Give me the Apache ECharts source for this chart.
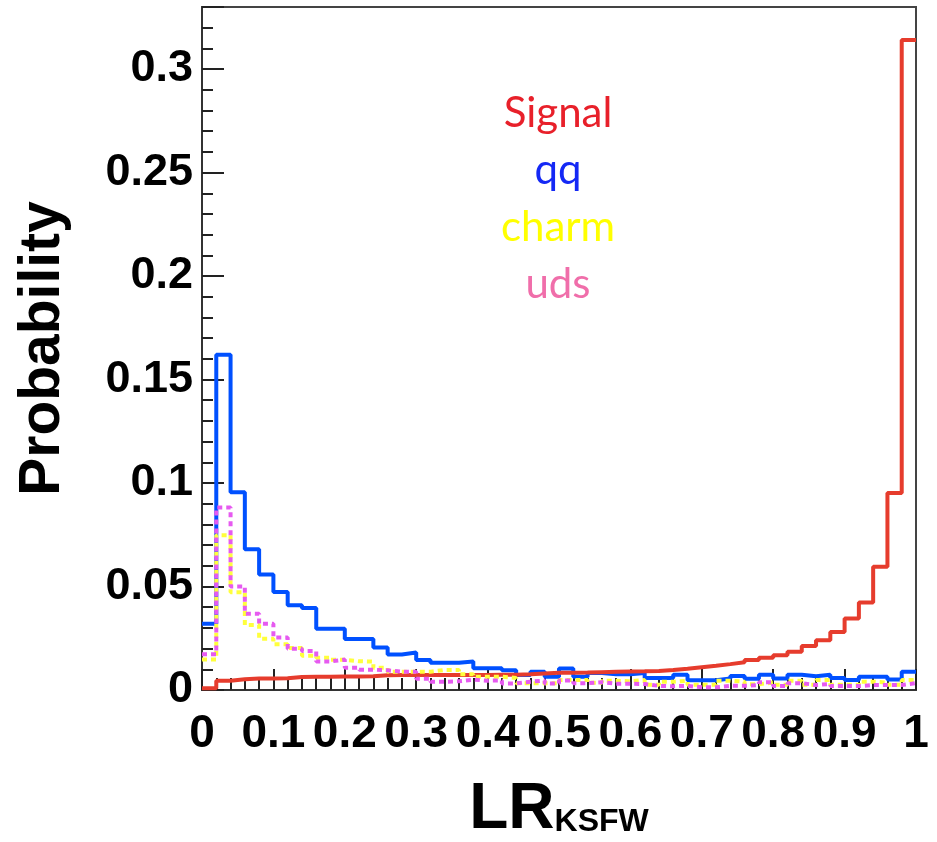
<!DOCTYPE html>
<html>
<head>
<meta charset="utf-8">
<script src="https://cdn.jsdelivr.net/npm/echarts@6/dist/echarts.min.js"></script>
<style>html,body{margin:0;padding:0;background:#fff;}#c{width:937px;height:842px;}</style>
</head>
<body>
<div id="c"></div>
<script>
// 50 bins of width 0.02 from 0 to 1
const binWidth = 0.02;
const signal = [0.0008,0.0045,0.0052,0.0055,0.0055,0.0057,0.0063,0.0064,0.0064,0.0065,
  0.0065,0.0066,0.0071,0.0072,0.0072,0.0072,0.0073,0.0073,0.0073,0.0073,
  0.0074,0.0074,0.0076,0.0080,0.0083,0.0083,0.0084,0.0086,0.0088,0.0089,
  0.0090,0.0092,0.0097,0.0103,0.0110,0.0117,0.0125,0.0134,0.0145,0.0156,
  0.0168,0.0185,0.0212,0.0240,0.0280,0.0345,0.0423,0.0596,0.0952,0.3140];
const qq = [0.0320,0.1620,0.0956,0.0680,0.0558,0.0474,0.0410,0.0396,0.0296,0.0296,
  0.0246,0.0246,0.0205,0.0172,0.0181,0.0145,0.0132,0.0132,0.0138,0.0105,
  0.0105,0.0095,0.0072,0.0088,0.0064,0.0104,0.0064,0.0082,0.0076,0.0076,
  0.0082,0.0058,0.0058,0.0074,0.0047,0.0047,0.0056,0.0068,0.0054,0.0074,
  0.0056,0.0074,0.0066,0.0074,0.0058,0.0048,0.0064,0.0064,0.0051,0.0088];
const charm = [0.0147,0.0748,0.0472,0.0314,0.0248,0.0221,0.0203,0.0166,0.0156,0.0146,
  0.0139,0.0137,0.0107,0.0088,0.0088,0.0088,0.0097,0.0097,0.0076,0.0064,
  0.0064,0.0058,0.0033,0.0033,0.0033,0.0048,0.0048,0.0035,0.0045,0.0042,
  0.0048,0.0025,0.0040,0.0045,0.0025,0.0025,0.0045,0.0040,0.0028,0.0036,
  0.0025,0.0045,0.0025,0.0048,0.0025,0.0025,0.0040,0.0036,0.0025,0.0048];
const uds = [0.0173,0.0882,0.0500,0.0368,0.0320,0.0254,0.0199,0.0188,0.0138,0.0147,
  0.0108,0.0098,0.0095,0.0088,0.0088,0.0054,0.0040,0.0042,0.0050,0.0045,
  0.0046,0.0032,0.0040,0.0046,0.0032,0.0046,0.0033,0.0038,0.0030,0.0030,
  0.0029,0.0020,0.0018,0.0020,0.0013,0.0013,0.0020,0.0020,0.0024,0.0038,
  0.0019,0.0033,0.0024,0.0029,0.0019,0.0019,0.0024,0.0024,0.0024,0.0033];
const legendNames = ['Signal','qq','charm','uds'];
const legendColors = ['#e8202a','#1428f5','#ffff00','#f06eaa'];

function steps(vals){
  const d = vals.map((v,i)=>[+(i*binWidth).toFixed(2), v]);
  d.push([1, vals[vals.length-1]]);
  return d;
}
const FONT = "'Liberation Sans', Arial, Helvetica, sans-serif";
const chart = echarts.init(document.getElementById('c'));
const tickStyle = {color:'#222', width:2};
chart.setOption({
  animation:false,
  backgroundColor:'#fff',
  grid:{left:202,right:21,top:7,bottom:152,show:true,borderColor:'#444',borderWidth:2,backgroundColor:'transparent',
    containLabel:false,outerBoundsMode:'none'},
  xAxis:{type:'value',min:0,max:1,interval:0.1,
    axisLine:{show:true,onZero:false,lineStyle:{color:'#333',width:2}},
    axisTick:{show:true,inside:true,length:21,lineStyle:tickStyle},
    minorTick:{show:true,splitNumber:5,length:12,lineStyle:tickStyle},
    splitLine:{show:false},
    axisLabel:{margin:21,fontFamily:FONT,fontWeight:'bold',fontSize:46,color:'#000',
      formatter:v=> (v===0?'0':(v===1?'1':v.toFixed(1)))},
    name:'{a|LR}{b|KSFW}',nameLocation:'middle',nameGap:86,
    nameTextStyle:{rich:{
      a:{fontFamily:FONT,fontWeight:'bold',fontSize:64,color:'#000',lineHeight:60,verticalAlign:'top'},
      b:{fontFamily:FONT,fontWeight:'bold',fontSize:32,color:'#000',lineHeight:32,padding:[44,0,0,0],verticalAlign:'bottom'}
    }}
  },
  yAxis:[{type:'value',min:0,max:0.33,interval:0.05,
    axisLine:{show:true,lineStyle:{color:'#333',width:2}},
    axisTick:{show:true,inside:true,length:22,lineStyle:tickStyle},
    splitLine:{show:false},
    axisLabel:{margin:9,fontFamily:FONT,fontWeight:'bold',fontSize:45,color:'#000',
      formatter:v=>{const r=Math.round(v*100); if(r%5!==0||r>30) return ''; return r===0?'0':String(+(v.toFixed(2)));}},
    name:'Probability',nameLocation:'middle',nameGap:130,nameRotate:90,
    nameTextStyle:{fontFamily:FONT,fontWeight:'bold',fontSize:57,color:'#000'}
  },{type:'value',min:0,max:0.33,interval:0.01,position:'left',
    axisLine:{show:false},axisLabel:{show:false},splitLine:{show:false},
    axisTick:{show:true,inside:true,length:11,lineStyle:tickStyle}
  }],
  graphic: legendNames.map((n,i)=>({type:'text',x:558,y:113+i*57,z:10,
    style:{text:n,fill:legendColors[i],font:"42px Lato, 'Open Sans', sans-serif",align:'center',verticalAlign:'middle'}})),
  series:[
    {name:'qq',type:'line',step:'end',data:steps(qq),showSymbol:false,symbol:'none',lineStyle:{color:'#0050ff',width:4},z:2},
    {name:'Signal',type:'line',step:'end',data:steps(signal),showSymbol:false,symbol:'none',lineStyle:{color:'#e63c2d',width:4},z:3},
    {name:'charm',type:'line',step:'end',data:steps(charm),showSymbol:false,symbol:'none',lineStyle:{color:'#ffff3c',width:4,type:[5,4]},z:4},
    {name:'uds',type:'line',step:'end',data:steps(uds),showSymbol:false,symbol:'none',lineStyle:{color:'#e65af0',width:4,type:[5,4]},z:5}
  ]
});
</script>
</body>
</html>
